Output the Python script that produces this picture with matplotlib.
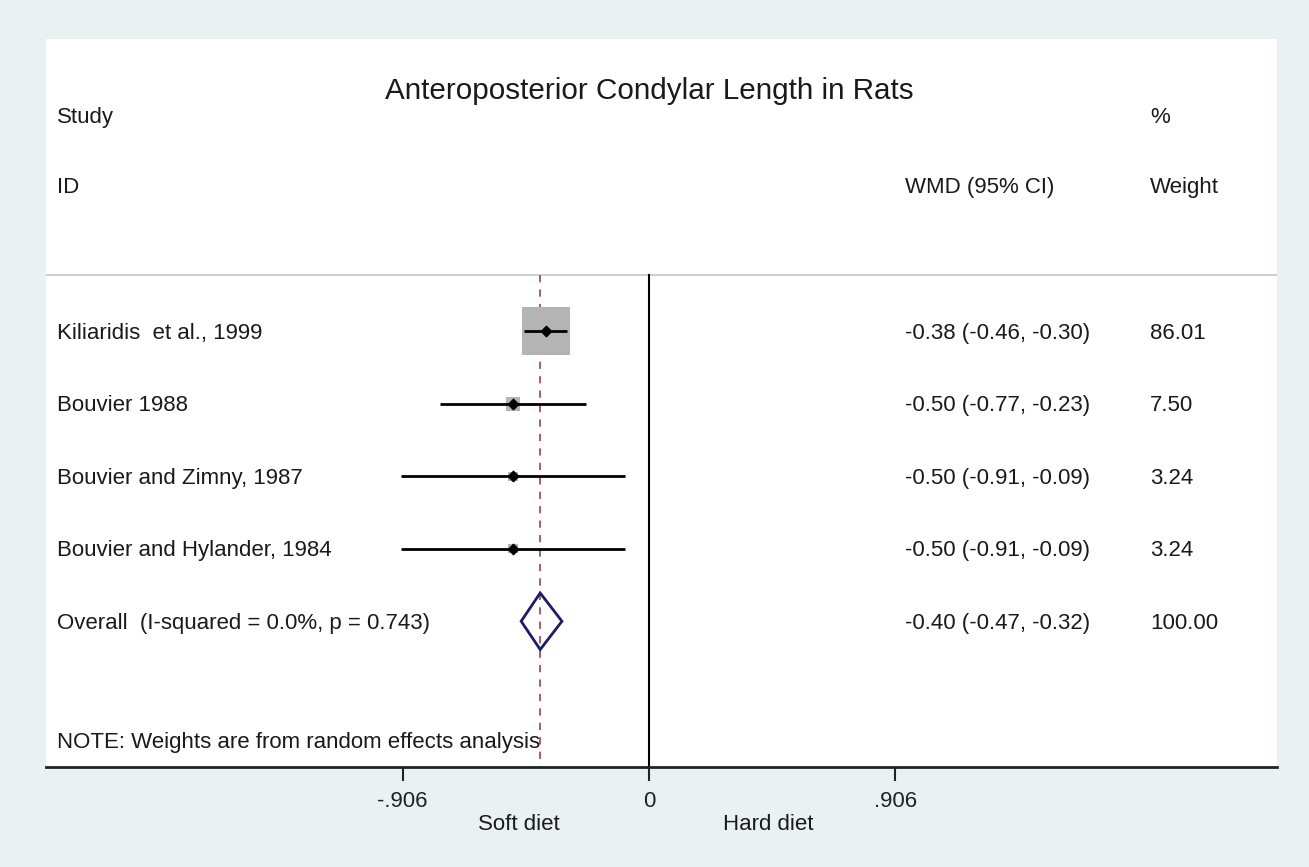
import numpy as np
import matplotlib
matplotlib.use("Agg")
import matplotlib.pyplot as plt
from matplotlib.patches import Polygon

plt.rcParams['font.family'] = ['Liberation Sans', 'DejaVu Sans']

# donnees
studies = ["Kiliaridis  et al., 1999", "Bouvier 1988", "Bouvier and Zimny, 1987",
           "Bouvier and Hylander, 1984"]
wmd = [-0.38, -0.50, -0.50, -0.50]
ci_low = [-0.46, -0.77, -0.91, -0.91]
ci_high = [-0.30, -0.23, -0.09, -0.09]
weights = [86.01, 7.50, 3.24, 3.24]

overall_label = "Overall  (I-squared = 0.0%, p = 0.743)"
overall_wmd = -0.40
overall_low = -0.47
overall_high = -0.32
overall_weight = 100.00

xticks = [-0.906, 0, 0.906]
xtick_labels = ["-.906", "0", ".906"]

bg = "#e9f1f3"
fig = plt.figure(figsize=(13.09, 8.67), dpi=100, facecolor=bg)
W, H = 1309, 867
ax = fig.add_axes([46 / W, (H - 767) / H, (1277 - 46) / W, (767 - 39) / H])
ax.set_facecolor("white")

ax.set_xlim(-2.217, 2.309)
ax.set_ylim(6.01, -4.03)

for s in ["top", "right", "left"]:
    ax.spines[s].set_visible(False)
ax.spines["bottom"].set_linewidth(2)
ax.spines["bottom"].set_color("#222222")
ax.set_yticks([])
ax.set_xticks(xticks)
ax.set_xticklabels(xtick_labels, fontsize=16, color="#222222")
ax.tick_params(axis="x", length=10, width=1.5, pad=7, color="#222222")

rows = np.arange(len(studies))
n = len(studies)

# lignes de reference
ax.axhline(-0.77, color="#d0d0d0", lw=1.5)
ax.plot([0, 0], [-0.77, 6.01], color="black", lw=1.5)
ax.plot([overall_wmd, overall_wmd], [-0.77, 6.01], color="#a0505a", lw=1.3,
        ls=(0, (4, 4)))

# etudes
ax.scatter(wmd, rows, marker="s", s=np.array(weights) * 13.9, color="#b4b4b4",
           zorder=3, linewidths=0)
ax.hlines(rows, ci_low, ci_high, color="black", lw=2, zorder=4)
ax.scatter(wmd, rows, marker="D", s=28, color="black", zorder=5)

# diamant global
yo = n
diam = Polygon([[overall_low, yo], [overall_wmd, yo - 0.39],
                [overall_high, yo], [overall_wmd, yo + 0.39]],
               closed=True, fill=False, edgecolor="#1c1c6b", lw=2, zorder=5)
ax.add_patch(diam)

tr = ax.get_yaxis_transform()
fs = 16
tc = "#1a1a1a"
for i in range(n):
    ax.text(0.009, i + 0.03, studies[i], transform=tr, fontsize=fs, va="center",
            color=tc)
    ax.text(0.698, i + 0.03, "%.2f (%.2f, %.2f)" % (wmd[i], ci_low[i], ci_high[i]),
            transform=tr, fontsize=fs, va="center", color=tc)
    ax.text(0.897, i + 0.03, "%.2f" % weights[i], transform=tr, fontsize=fs,
            va="center", color=tc)

ax.text(0.009, yo + 0.03, overall_label, transform=tr, fontsize=fs, va="center",
        color=tc)
ax.text(0.698, yo + 0.03, "%.2f (%.2f, %.2f)" % (overall_wmd, overall_low, overall_high),
        transform=tr, fontsize=fs, va="center", color=tc)
ax.text(0.897, yo + 0.03, "%.2f" % overall_weight, transform=tr, fontsize=fs,
        va="center", color=tc)

ax.text(0.009, 5.67, "NOTE: Weights are from random effects analysis", transform=tr,
        fontsize=fs, va="center", color=tc)

# entetes
ax.text(0.009, -2.95, "Study", transform=tr, fontsize=fs, va="center", color=tc)
ax.text(0.009, -1.98, "ID", transform=tr, fontsize=fs, va="center", color=tc)
ax.text(0.698, -1.98, "WMD (95% CI)", transform=tr, fontsize=fs, va="center", color=tc)
ax.text(0.897, -2.95, "%", transform=tr, fontsize=fs, va="center", color=tc)
ax.text(0.897, -1.98, "Weight", transform=tr, fontsize=fs, va="center", color=tc)
ax.text(0, -3.2, "Anteroposterior Condylar Length in Rats", fontsize=21.3,
        ha="center", va="baseline", color=tc)

# etiquettes sous l'axe
fig.text(519 / W, 1 - 824 / H, "Soft diet", fontsize=16, ha="center", va="center",
         color=tc)
fig.text(768 / W, 1 - 824 / H, "Hard diet", fontsize=16, ha="center", va="center",
         color=tc)

fig.savefig("out.png", dpi=100, facecolor=bg)
